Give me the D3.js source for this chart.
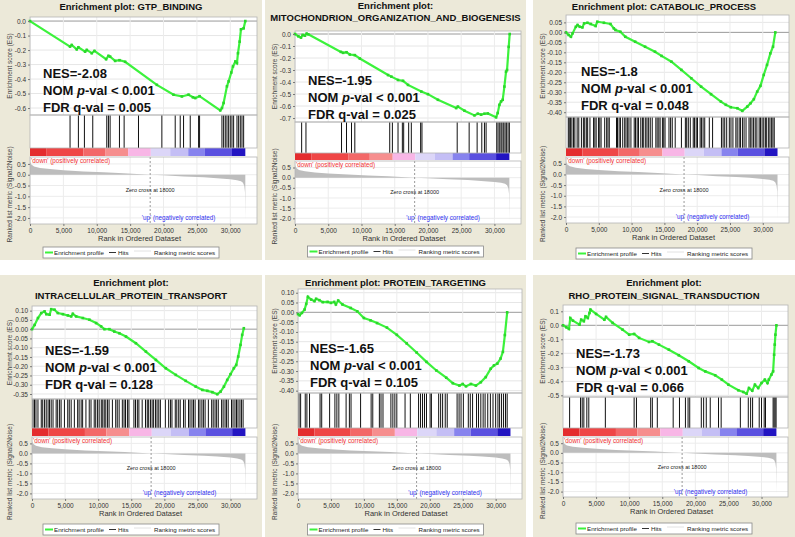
<!DOCTYPE html>
<html>
<head>
<meta charset="utf-8">
<script src="https://cdn.jsdelivr.net/npm/d3@7"></script>
<style>
  body { margin: 0; background: #fff; }
  svg { display: block; }
  text { font-family: "Liberation Sans", Arial, sans-serif; }
</style>
</head>
<body>
<div id="chart"></div>
<script>
// ---- data ----
const titles = [
  ["Enrichment plot: GTP_BINDING"],
  ["Enrichment plot:", "MITOCHONDRION_ORGANIZATION_AND_BIOGENESIS"],
  ["Enrichment plot: CATABOLIC_PROCESS"],
  ["Enrichment plot:", "INTRACELLULAR_PROTEIN_TRANSPORT"],
  ["Enrichment plot: PROTEIN_TARGETING"],
  ["Enrichment plot:", "RHO_PROTEIN_SIGNAL_TRANSDUCTION"]
];
const nesValues = ["-2.08", "-1.95", "-1.8", "-1.59", "-1.65", "-1.73"];
const nomValues = ["0.001", "0.001", "0.001", "0.001", "0.001", "0.001"];
const fdrValues = ["0.005", "0.025", "0.048", "0.128", "0.105", "0.066"];

// enrichment score curves: [rank, ES]
const gtpCurve = [[0,0],[6000,-0.176],[6250,-0.165],[7000,-0.195],[7250,-0.181],[8250,-0.211],[8500,-0.199],[9250,-0.222],[9650,-0.206],[11400,-0.263],[11750,-0.24],[12000,-0.245],[12750,-0.275],[13400,-0.27],[14250,-0.281],[19000,-0.44],[21500,-0.508],[22750,-0.52],[23750,-0.508],[24400,-0.526],[24750,-0.531],[25400,-0.518],[28500,-0.616],[28750,-0.6],[29000,-0.565],[29500,-0.45],[29750,-0.416],[30150,-0.355],[30400,-0.313],[30750,-0.279],[31000,-0.29],[31150,-0.222],[31400,-0.142],[31600,-0.057],[32000,-0.05],[32250,0]];
const mitoCurve = [[0,0],[500,-0.019],[900,-0.03],[1150,-0.008],[1500,-0.014],[1750,0.003],[2000,-0.003],[6900,-0.149],[7250,-0.157],[7750,-0.152],[8250,-0.171],[9000,-0.176],[9750,-0.204],[14000,-0.342],[14500,-0.355],[15500,-0.383],[16250,-0.39],[17000,-0.424],[19000,-0.479],[20000,-0.501],[21500,-0.548],[24250,-0.617],[24500,-0.605],[25500,-0.639],[27000,-0.678],[27500,-0.664],[28000,-0.672],[28500,-0.664],[29000,-0.662],[30250,-0.694],[30500,-0.658],[30750,-0.59],[31000,-0.562],[31250,-0.548],[31500,-0.438],[31750,-0.314],[31900,-0.3],[32150,-0.107],[32300,0]];
const cataCurve = [[0,0],[400,-0.013],[750,-0.022],[1000,-0.005],[1500,0.028],[1760,0.037],[2100,0.028],[2500,0.025],[2760,0.045],[3270,0.048],[3770,0.042],[4520,0.032],[4770,0.053],[5780,0.048],[6780,0.042],[7290,0.02],[7540,0.012],[8290,0.003],[9050,-0.022],[10550,-0.047],[12060,-0.072],[13570,-0.097],[14570,-0.118],[16080,-0.147],[17590,-0.188],[19100,-0.23],[20600,-0.272],[22110,-0.31],[23620,-0.347],[24370,-0.363],[25130,-0.375],[26130,-0.38],[26880,-0.393],[27640,-0.372],[28140,-0.355],[28640,-0.335],[29150,-0.297],[29650,-0.268],[30150,-0.213],[30650,-0.163],[31160,-0.105],[31560,-0.072],[31910,0]];
const intraCurve = [[0,0],[400,0.023],[900,0.06],[1400,0.087],[1900,0.096],[2160,0.081],[2660,0.078],[2900,0.108],[3400,0.105],[3900,0.087],[4670,0.081],[5420,0.074],[5920,0.069],[6170,0.083],[6670,0.069],[7680,0.06],[8680,0.051],[9690,0.033],[10440,0.015],[10940,0],[11690,0],[12440,-0.013],[13200,-0.022],[14200,-0.04],[15700,-0.076],[17210,-0.121],[18720,-0.166],[20220,-0.211],[21730,-0.247],[23230,-0.279],[24740,-0.31],[25740,-0.328],[26500,-0.333],[27250,-0.34],[28000,-0.351],[28500,-0.337],[29000,-0.31],[29500,-0.274],[30000,-0.243],[30500,-0.211],[30860,-0.193],[31160,-0.148],[31510,-0.085],[31760,-0.031],[32010,0.005]];
const targCurve = [[0,-0.009],[250,-0.015],[600,-0.003],[1000,0.014],[1250,0.043],[1500,0.079],[2000,0.065],[2500,0.057],[2750,0.069],[3250,0.062],[3750,0.052],[4500,0.053],[5000,0.048],[5500,0.053],[5750,0.04],[6100,0.06],[6750,0.04],[8000,0.022],[9000,0.005],[10000,-0.029],[11000,-0.041],[12000,-0.055],[13500,-0.078],[15000,-0.115],[16500,-0.159],[18000,-0.205],[19500,-0.253],[21000,-0.297],[22500,-0.334],[23500,-0.362],[24500,-0.374],[25000,-0.366],[25500,-0.378],[26250,-0.366],[27000,-0.374],[27750,-0.357],[28500,-0.331],[29250,-0.288],[29750,-0.271],[30250,-0.262],[30750,-0.236],[31100,-0.202],[31400,-0.116],[31750,0]];
const rhoCurve = [[0,0],[500,-0.014],[900,-0.026],[1100,0.052],[1500,0.033],[2500,0.005],[2750,0.04],[3150,0.029],[3400,0.064],[3750,0.052],[4000,0.088],[4150,0.112],[5000,0.081],[6250,0.04],[6500,0.06],[7500,0.017],[9000,-0.031],[10000,-0.067],[10750,-0.062],[11500,-0.09],[13000,-0.119],[13500,-0.114],[14500,-0.138],[16000,-0.174],[17500,-0.214],[19000,-0.257],[20500,-0.305],[21500,-0.329],[23000,-0.357],[24000,-0.388],[25000,-0.424],[26500,-0.464],[27250,-0.476],[27750,-0.488],[28100,-0.448],[28600,-0.467],[29000,-0.424],[29500,-0.448],[30000,-0.412],[30500,-0.388],[30900,-0.412],[31100,-0.388],[31500,-0.352],[31750,-0.329],[31900,-0.21],[32000,-0.138],[32100,-0.067],[32250,0]];

// hit positions (rank of each gene-set member)
const gtpHits = [6000,7250,8150,9400,11500,11750,12000,13400,14100,16250,19750,21750,22500,23000,24000,25250,25400,28750,29000,29250,29500,29750,30000,30250,30500,31000,31250,31500,31750,32000];
const mitoHits = [1000,1650,7000,7750,8500,9000,14250,14650,15500,16150,16350,17100,17500,18900,19100,24400,26200,27400,28100,28500,28750,30350,30550,30800,31000,31150,31400,31600,31800,32050,32250];
const cataHits = [350,500,700,900,1150,1350,1700,1950,2350,2650,2850,3100,3300,3650,4200,4400,4600,4950,5150,5350,5900,6200,6400,6600,7700,7850,8100,8300,8650,8950,9150,9400,9600,9900,10400,10600,10850,11050,11400,11650,11850,12150,12350,12600,12850,13150,13700,13900,14150,14350,14700,14900,15100,15700,15950,16200,16650,17600,18200,18400,18650,18950,19400,19600,19850,20050,20450,20650,20900,21150,21850,22350,23700,23950,24200,24500,24900,25150,25450,25900,26100,26400,26600,26900,27150,27450,27900,28100,28350,28600,28850,29100,29450,29650,29900,30150,30400,30600,30900,31100,31350,31550,31750];
const intraHits = [150,380,600,900,1400,1620,1900,2150,2430,2650,2900,3180,3650,3880,4170,4400,4900,5400,5630,5920,6400,6900,7120,7430,7650,8150,8650,8920,9400,9630,9910,10150,10470,10690,10920,11150,11420,11650,12150,12650,12880,13170,13650,13910,14130,14420,14650,15400,15640,15920,16150,16650,17150,17420,17630,17900,18150,18380,18670,18900,19160,19400,20150,20650,20920,21150,21650,21880,22170,22400,22900,23150,23650,23880,24170,24400,24650,25150,25380,25670,25900,26160,26650,27150,27380,27660,27900,28150,28650,28880,29170,29400,29650,30150,30380,30670,30900,31130,31420,31650,31900];
const targHits = [150,400,1100,1350,1750,3350,3600,4800,5600,5900,6200,7300,7800,8050,9500,11100,11350,12350,12600,12900,14100,14400,14700,15000,16250,17050,18300,18600,18900,19200,19500,20050,20250,21350,21650,21950,22350,22650,24150,24450,24750,25100,25850,26150,26500,27100,27400,27750,28100,28400,28800,29200,29600,30000,30350,30600,30900,31200,31500,31750];
const rhoHits = [1000,2650,2900,3150,3600,3900,6400,10750,11100,13250,13500,14250,16650,17600,18500,18900,19150,20900,21250,21650,22250,23500,23900,26800,28000,28350,28650,29650,30000,30400,30600,31750,31900,32050,32200];

// ranked list metric (Signal2Noise), same dataset for every plot
const metricRanks  = [0, 200, 600, 1500, 3000, 5000, 8000, 11000, 14000, 16000, 18000, 20000, 23000, 26000, 28000, 30000, 31000, 31600, 31900, 32100, 32200, 32250];
const metricValues = [0.6, 0.47, 0.38, 0.31, 0.26, 0.21, 0.15, 0.11, 0.07, 0.035, 0.0, -0.03, -0.08, -0.12, -0.16, -0.21, -0.25, -0.3, -0.37, -0.52, -0.8, -2.1];
const zeroCross = 18000;

// colour bar blocks along the ranked list
const barEdges  = [0, 2500, 8000, 11250, 14700, 18100, 21000, 23700, 26200, 30250, 32250];
const barColors = ["#e42c2e", "#ef4646", "#f36868", "#f68e8e", "#f8b6e6", "#dcd6f8", "#c4bef5", "#8783ee", "#5a50e0", "#2214c2"];

// axis ticks
const rankTicks = [0, 5000, 10000, 15000, 20000, 25000, 30000];
const metricTicks = [0.5, 0.0, -0.5, -1.0, -1.5, -2.0];
const esTicks = [
  [0, -0.1, -0.2, -0.3, -0.4, -0.5, -0.6],
  [0, -0.1, -0.2, -0.3, -0.4, -0.5, -0.6, -0.7],
  [0.05, 0, -0.05, -0.1, -0.15, -0.2, -0.25, -0.3, -0.35, -0.4],
  [0.1, 0.05, 0, -0.05, -0.1, -0.15, -0.2, -0.25, -0.3, -0.35],
  [0.1, 0.05, 0, -0.05, -0.1, -0.15, -0.2, -0.25, -0.3, -0.35, -0.4],
  [0.1, 0, -0.1, -0.2, -0.3, -0.4, -0.5]
];
const esFormats = [".1f", ".1f", ".2f", ".2f", ".2f", ".1f"];
const esDomains = [[0.028, -0.648], [0.025, -0.733], [0.087, -0.424], [0.125, -0.377], [0.119, -0.412], [0.145, -0.512]];
const metricDomain = [0.82, -2.28];

const curves = [gtpCurve, mitoCurve, cataCurve, intraCurve, targCurve, rhoCurve];
const hitSets = [gtpHits, mitoHits, cataHits, intraHits, targHits, rhoHits];

// ---- layout of the six panels (pixels) ----
const layout = [
  {box: [0, 0, 262, 260],   titleY: [10],      left: 30,  right: 257, esTop: 17,  esBottom: 115, barTop: 148, rankTop: 157, rankBottom: 224, nes: [43, 78],   legendY: 247},
  {box: [265, 0, 261, 260], titleY: [9, 21],   left: 295, right: 521, esTop: 31,  esBottom: 122, barTop: 153, rankTop: 161, rankBottom: 224, nes: [308, 85],  legendY: 246},
  {box: [533, 0, 262, 260], titleY: [10],      left: 566, right: 789, esTop: 15,  esBottom: 117, barTop: 148, rankTop: 157, rankBottom: 223, nes: [581, 76],  legendY: 248},
  {box: [0, 275, 262, 262], titleY: [286, 299], left: 32, right: 257, esTop: 306, esBottom: 399, barTop: 428, rankTop: 437, rankBottom: 499, nes: [45, 355],  legendY: 524},
  {box: [265, 275, 261, 262], titleY: [286],   left: 298, right: 522, esTop: 289, esBottom: 393, barTop: 428, rankTop: 437, rankBottom: 499, nes: [310, 353], legendY: 524},
  {box: [533, 275, 262, 262], titleY: [286, 299], left: 563, right: 788, esTop: 305, esBottom: 397, barTop: 428, rankTop: 437, rankBottom: 497, nes: [576, 358], legendY: 523}
];

const svg = d3.select("#chart").append("svg")
  .attr("width", 795)
  .attr("height", 537);

const minusFix = s => s.replace("\u2212", "-");
const green = "#3cf23c";

layout.forEach((L, i) => {
  const [bx, by, bw, bh] = L.box;
  const g = svg.append("g");

  g.append("rect")
    .attr("x", bx).attr("y", by).attr("width", bw).attr("height", bh)
    .attr("fill", "#ece9d9");

  titles[i].forEach((t, j) => {
    g.append("text")
      .attr("x", bx + bw / 2)
      .attr("y", L.titleY[j])
      .attr("text-anchor", "middle")
      .attr("font-size", "9.5px")
      .attr("font-weight", "bold")
      .attr("fill", "#111")
      .text(t);
  });

  const x = d3.scaleLinear().domain([0, 34000]).range([L.left, L.right]);
  const yEs = d3.scaleLinear().domain(esDomains[i]).range([L.esTop, L.esBottom]);
  const yM = d3.scaleLinear().domain(metricDomain).range([L.rankTop, L.rankBottom]);

  // white plot areas
  g.append("rect")
    .attr("x", L.left).attr("y", L.esTop)
    .attr("width", L.right - L.left).attr("height", L.rankBottom - L.esTop)
    .attr("fill", "#fff");

  // grids
  esTicks[i].forEach(v => {
    g.append("line")
      .attr("x1", L.left).attr("x2", L.right)
      .attr("y1", yEs(v)).attr("y2", yEs(v))
      .attr("stroke", v === 0 ? "#9a9a9a" : "#e6e6e6")
      .attr("stroke-width", 1);
  });
  rankTicks.forEach(v => {
    g.append("line")
      .attr("x1", x(v)).attr("x2", x(v))
      .attr("y1", L.esTop).attr("y2", L.esBottom)
      .attr("stroke", "#ececec");
    g.append("line")
      .attr("x1", x(v)).attr("x2", x(v))
      .attr("y1", L.rankTop).attr("y2", L.rankBottom)
      .attr("stroke", "#ececec");
  });
  metricTicks.forEach(v => {
    g.append("line")
      .attr("x1", L.left).attr("x2", L.right)
      .attr("y1", yM(v)).attr("y2", yM(v))
      .attr("stroke", "#ececec");
  });

  // hits
  g.selectAll(".hit").data(hitSets[i]).join("line")
    .attr("x1", d => x(d)).attr("x2", d => x(d))
    .attr("y1", L.esBottom).attr("y2", L.barTop)
    .attr("stroke", "#111")
    .attr("stroke-width", 1);

  // colour bar
  barColors.forEach((c, k) => {
    g.append("rect")
      .attr("x", x(barEdges[k]))
      .attr("y", L.barTop)
      .attr("width", x(barEdges[k + 1]) - x(barEdges[k]))
      .attr("height", L.rankTop - L.barTop - 1)
      .attr("fill", c);
  });

  // ranked list metric
  const area = d3.area()
    .x((d, k) => x(metricRanks[k]))
    .y0(yM(0))
    .y1(d => yM(d));
  g.append("path")
    .datum(metricValues)
    .attr("d", area)
    .attr("fill", "#bdbdbd");

  g.append("line")
    .attr("x1", x(zeroCross)).attr("x2", x(zeroCross))
    .attr("y1", L.rankTop).attr("y2", L.rankBottom)
    .attr("stroke", "#999")
    .attr("stroke-dasharray", "2,2");

  g.append("text")
    .attr("x", x(zeroCross)).attr("y", yM(-0.72) + 2)
    .attr("text-anchor", "middle")
    .attr("font-size", "5.5px")
    .attr("fill", "#222")
    .text(`Zero cross at ${zeroCross}`);

  g.append("text")
    .attr("x", L.left + 1).attr("y", L.rankTop + 5.5)
    .attr("font-size", "6.3px")
    .attr("fill", "#f03030")
    .text("'down' (positively correlated)");

  g.append("text")
    .attr("x", x(16750)).attr("y", yM(-2.0) + 2)
    .attr("font-size", "6.3px")
    .attr("fill", "#3030f0")
    .text("'up' (negatively correlated)");

  // frames
  [[L.esTop, L.esBottom], [L.esBottom, L.barTop], [L.rankTop, L.rankBottom]].forEach(([t, b]) => {
    g.append("rect")
      .attr("x", L.left).attr("y", t)
      .attr("width", L.right - L.left).attr("height", b - t)
      .attr("fill", "none")
      .attr("stroke", "#b4b4b4")
      .attr("stroke-width", 0.8);
  });

  // enrichment profile
  const line = d3.line().x(d => x(d[0])).y(d => yEs(d[1]));
  g.append("path")
    .datum(curves[i])
    .attr("d", line)
    .attr("fill", "none")
    .attr("stroke", green)
    .attr("stroke-width", 2.2);
  g.selectAll(".pt").data(curves[i]).join("rect")
    .attr("x", d => x(d[0]) - 1.3)
    .attr("y", d => yEs(d[1]) - 1.3)
    .attr("width", 2.6).attr("height", 2.6)
    .attr("fill", "#2bd82b");

  // axes
  const styleAxis = sel => {
    sel.select(".domain").remove();
    sel.selectAll(".tick line").attr("stroke", "#777");
    sel.selectAll(".tick text").attr("font-size", "6.5px").attr("fill", "#333")
      .attr("font-family", "'Liberation Sans', Arial, sans-serif");
  };
  g.append("g")
    .attr("transform", `translate(${L.left},0)`)
    .call(d3.axisLeft(yEs).tickValues(esTicks[i]).tickSize(2).tickPadding(2)
      .tickFormat(v => minusFix(d3.format(esFormats[i])(v))))
    .call(styleAxis);
  g.append("g")
    .attr("transform", `translate(${L.left},0)`)
    .call(d3.axisLeft(yM).tickValues(metricTicks).tickSize(2).tickPadding(2)
      .tickFormat(v => minusFix(d3.format(".1f")(v))))
    .call(styleAxis);
  g.append("g")
    .attr("transform", `translate(0,${L.rankBottom})`)
    .call(d3.axisBottom(x).tickValues(rankTicks).tickSize(2).tickPadding(2)
      .tickFormat(d3.format(",")))
    .call(styleAxis);

  // axis titles
  g.append("text")
    .attr("transform", `translate(${bx + 12},${(L.esTop + L.esBottom) / 2}) rotate(-90)`)
    .attr("text-anchor", "middle")
    .attr("font-size", "6.5px")
    .attr("fill", "#444")
    .text("Enrichment score (ES)");
  g.append("text")
    .attr("transform", `translate(${bx + 12},${(L.rankTop + L.rankBottom) / 2 + 4}) rotate(-90)`)
    .attr("text-anchor", "middle")
    .attr("font-size", "6.5px")
    .attr("fill", "#444")
    .text("Ranked list metric (Signal2Noise)");
  g.append("text")
    .attr("x", (L.left + L.right) / 2 - 4)
    .attr("y", L.rankBottom + 17)
    .attr("text-anchor", "middle")
    .attr("font-size", "7.5px")
    .attr("fill", "#333")
    .text("Rank in Ordered Dataset");

  // statistics
  const st = g.append("text")
    .attr("x", L.nes[0]).attr("y", L.nes[1])
    .attr("font-family", "Lato, 'Open Sans', sans-serif")
    .attr("font-weight", "bold")
    .attr("font-size", "13px")
    .attr("fill", "#111");
  st.append("tspan").attr("x", L.nes[0]).text(`NES=${nesValues[i]}`);
  const l2 = st.append("tspan").attr("x", L.nes[0]).attr("dy", 17);
  l2.append("tspan").text("NOM ");
  l2.append("tspan").attr("font-style", "italic").text("p");
  l2.append("tspan").text(`-val < ${nomValues[i]}`);
  st.append("tspan").attr("x", L.nes[0]).attr("dy", 17).text(`FDR q-val = ${fdrValues[i]}`);

  // legend
  const lw = 176, lx = bx + bw / 2 - lw / 2, ly = L.legendY;
  const lg = g.append("g").attr("transform", `translate(${lx},${ly})`);
  lg.append("rect").attr("width", lw).attr("height", 11)
    .attr("fill", "#fff").attr("stroke", "#888").attr("stroke-width", 0.8);
  const items = [
    {x0: 2, x1: 10, stroke: green, w: 2, dy: 5.5, label: "Enrichment profile", tx: 11},
    {x0: 66, x1: 73, stroke: "#333", w: 1, dy: 5.5, label: "Hits", tx: 75},
    {x0: 91, x1: 108, stroke: "#e2e2e2", w: 1, dy: 4, label: "Ranking metric scores", tx: 111}
  ];
  items.forEach(it => {
    lg.append("line").attr("x1", it.x0).attr("x2", it.x1).attr("y1", it.dy).attr("y2", it.dy)
      .attr("stroke", it.stroke).attr("stroke-width", it.w);
    lg.append("text").attr("x", it.tx).attr("y", 8)
      .attr("font-size", "6.2px").attr("fill", "#222").text(it.label);
  });
});
</script>
</body>
</html>
